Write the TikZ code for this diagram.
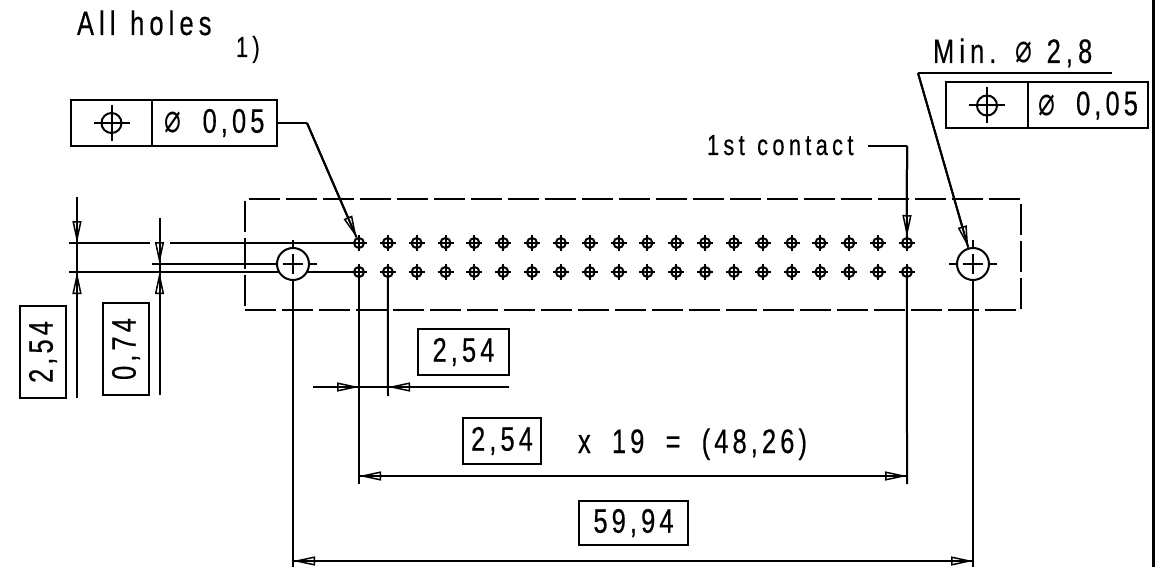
\documentclass[tikz,border=0pt]{standalone}
\usepackage{fontspec}
\usepackage{tikz}
\usetikzlibrary{arrows.meta}
\newfontfamily\dinfont[FakeStretch=0.75,FakeBold=0.4,LetterSpace=12,WordSpace=1.9]{Liberation Sans}
\newfontfamily\wordfont[FakeStretch=0.75,FakeBold=0.4,LetterSpace=15,WordSpace=1.2]{Liberation Sans}
\newfontfamily\diafont[FakeStretch=0.7]{DejaVu Sans}
\newcommand{\dia}{{\diafont\fontsize{40}{40}\selectfont ⌀}}
\tikzset{
	drawing/.style={line width=2pt, black},
	lbl/.style={font=\wordfont\fontsize{34}{34}\selectfont, inner sep=0pt, anchor=base west},
	lblsmall/.style={lbl, font=\wordfont\fontsize{29}{29}\selectfont},
	framebox/.style={draw, line width=2pt, font=\dinfont\fontsize{34}{34}\selectfont, inner sep=0pt},
	outline/.style={draw, line width=2pt, dash pattern=on 31pt off 6pt},
	hole/.style={shape=circle, draw, inner sep=0pt, minimum size=10pt},
	bighole/.style={shape=circle, draw, fill=white, inner sep=0pt, minimum size=32pt},
	tipend/.style={-{Triangle[open, length=22pt, width=9pt, line width=1.5pt]}},
	tipboth/.style={{Triangle[open, length=22pt, width=9pt, line width=1.5pt]}-{Triangle[open, length=22pt, width=9pt, line width=1.5pt]}}
}
\begin{document}
\begin{tikzpicture}[x=1pt, y=-1pt, drawing]
	\useasboundingbox (0,0) rectangle (1157,567);
	\draw[line width=3pt] (1153,0) -- (1153,567);

	\node[outline, minimum width=776pt, minimum height=111pt] (body) at (633,254.5) {};

	% free ends
	\coordinate (ltop) at (69,243);
	\coordinate (lbot) at (69,272);
	\coordinate (gapa) at (150,243);
	\coordinate (gapb) at (170,243);
	\coordinate (cleft) at (152,264);
	\coordinate (cright) at (317,264);
	\coordinate (atop) at (77,197);
	\coordinate (amid) at (77,243);
	\coordinate (alow) at (77,272);
	\coordinate (abot) at (77,398);
	\coordinate (btop) at (159.5,218);
	\coordinate (bmid) at (159.5,264);
	\coordinate (blow) at (159.5,272);
	\coordinate (bbot) at (159.5,395);
	\coordinate (ea) at (359,484);
	\coordinate (eb) at (388,396);
	\coordinate (ec) at (907,484);
	\coordinate (ed) at (293,567);
	\coordinate (ee) at (973,567);
	\coordinate (da) at (313,387);
	\coordinate (daa) at (359,387);
	\coordinate (db) at (509,387);
	\coordinate (dbb) at (388,387);
	\coordinate (dc) at (359,476);
	\coordinate (dd) at (907,476);
	\coordinate (de) at (293,561);
	\coordinate (df) at (973,561);

	% contact holes
	\foreach \i in {0,...,19}{
		\draw ({359+28.84*\i-8},243) -- ({359+28.84*\i+8},243);
		\draw ({359+28.84*\i},235) -- ({359+28.84*\i},251);
		\draw ({359+28.84*\i-8},272) -- ({359+28.84*\i+8},272);
		\draw ({359+28.84*\i},264) -- ({359+28.84*\i},280);
		\node[hole] (t\i) at ({359+28.84*\i},243) {};
		\node[hole] (b\i) at ({359+28.84*\i},272) {};
	}

	\draw (ltop) -- (gapa);
	\draw (gapb) -- (t0);
	\draw (lbot) -- (b0);
	\draw (cleft) -- (cright);
	\draw (293,240) -- (293,288);
	\draw (949,264) -- (997,264);
	\draw (973,240) -- (973,288);

	% mounting holes
	\node[bighole] (hl) at (293,264) {};
	\node[bighole] (hr) at (973,264) {};
	\draw (283,264) -- (303,264);
	\draw (293,254) -- (293,274);
	\draw (963,264) -- (983,264);
	\draw (973,254) -- (973,274);

	% extension lines
	\draw (b0) -- (ea);
	\draw (b1) -- (eb);
	\draw (b19) -- (ec);
	\draw (hl) -- (ed);
	\draw (hr) -- (ee);

	% dimensions
	\draw (amid) -- (alow);
	\draw (bmid) -- (blow);
	\draw (daa) -- (dbb);
	\foreach \a/\b in {atop/amid, abot/alow, btop/bmid, bbot/blow, da/daa, db/dbb}{
		\draw (\a) -- (\b);
		\draw[tipend] (\a) -- (\b);
	}
	\foreach \a/\b in {dc/dd, de/df}{
		\draw (\a) -- (\b);
		\draw[tipboth] (\a) -- (\b);
	}

	\node[framebox, minimum width=46pt, minimum height=92pt] (vala) at (43,352) {\rotatebox{90}{2,54}};
	\node[framebox, minimum width=46pt, minimum height=92pt] (valb) at (126,349) {\rotatebox{90}{0,74}};
	\node[framebox, minimum width=91pt, minimum height=46pt] (valc) at (463.5,352) {2,54};
	\node[framebox, minimum width=78pt, minimum height=46pt] (vald) at (502,441) {2,54};
	\node[framebox, minimum width=109pt, minimum height=44pt] (vale) at (633.5,523) {59,94};
	\node[lbl, font=\dinfont\fontsize{34}{34}\selectfont] (times) at (577,453) {x 19 = (48,26)};

	% tolerance frames
	\node[framebox, minimum width=81pt, minimum height=46pt] (syma) at (111.5,123) {};
	\node[framebox, minimum width=125pt, minimum height=46pt] (tola) at (214.5,123) {\dia\ 0,05};
	\node[framebox, minimum width=82pt, minimum height=46pt] (symb) at (987,105.5) {};
	\node[framebox, minimum width=120pt, minimum height=46pt] (tolb) at (1088,105.5) {\dia\ 0,05};
	\draw (syma.center)+(-18,0) -- +(18,0);
	\draw (syma.center)+(0,-18) -- +(0,18);
	\draw (syma.center) circle[radius=10pt];
	\draw (symb.center)+(-18,0) -- +(18,0);
	\draw (symb.center)+(0,-18) -- +(0,18);
	\draw (symb.center) circle[radius=10pt];

	% leaders
	\coordinate (benda) at (307,123);
	\coordinate (bendb) at (907,146);
	\coordinate (wirea) at (868,146);
	\coordinate (mina) at (1112,73);
	\coordinate (minb) at (918,73);
	\draw (tola.east |- benda) -- (benda);
	\draw (benda) -- (t0);
	\draw[tipend] (benda) -- (t0);
	\draw (wirea) -- (bendb);
	\draw (bendb) -- (t19);
	\draw[tipend] (bendb) -- (t19);
	\draw (mina) -- (minb);
	\draw (minb) -- (hr);
	\draw[tipend] (minb) -- (hr);

	\node[lbl] (allholes) at (76,35) {All holes};
	\node[lblsmall] (note) at (235,57) {1)};
	\node[lblsmall] (first) at (706,155) {1st contact};
	\node[lbl] (mindia) at (932,63) {Min. \dia\ 2,8};
\end{tikzpicture}
\end{document}
